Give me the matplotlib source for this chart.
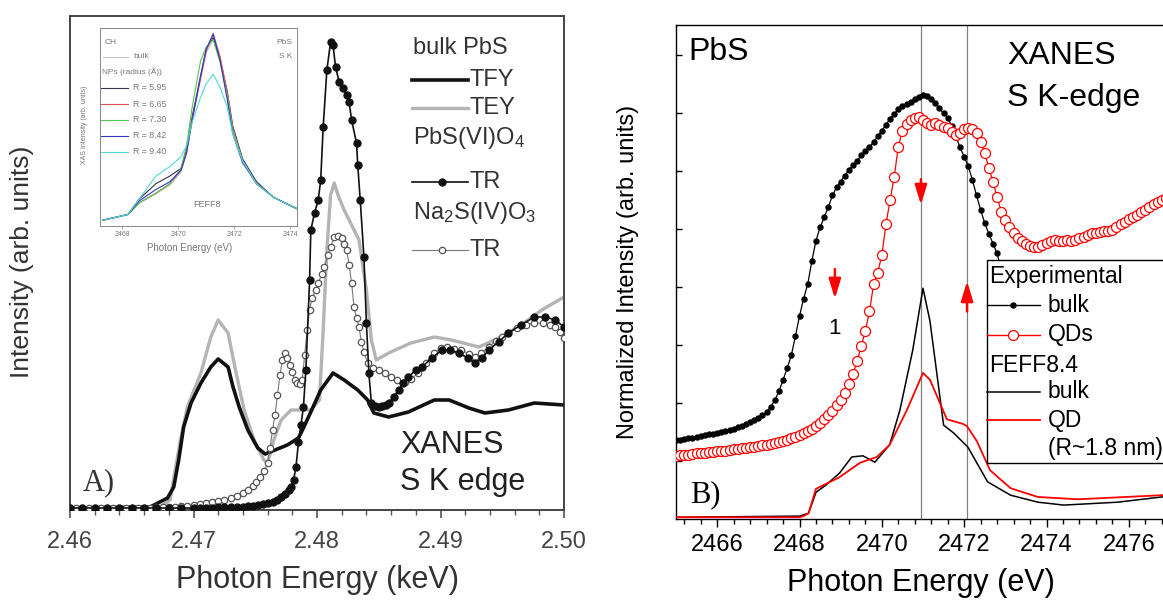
import matplotlib
matplotlib.use('Agg')
import matplotlib.pyplot as plt
from matplotlib.lines import Line2D
from matplotlib.patches import Rectangle
from matplotlib.ticker import MultipleLocator, FormatStrFormatter

plt.rcParams['font.family'] = ['Liberation Sans', 'DejaVu Sans']
plt.rcParams['mathtext.fontset'] = 'custom'
plt.rcParams['mathtext.rm'] = 'Liberation Sans'
plt.rcParams['mathtext.it'] = 'Liberation Sans:italic'

# ---------------- Panel A data (keV, arb.) ----------------
tfy_pts = [(2.4600, 0.02), (2.4665, 0.03), (2.4679, 0.12), (2.4684, 0.23), (2.4688, 0.50),
           (2.4692, 0.83), (2.4698, 1.07), (2.4706, 1.27), (2.4714, 1.43), (2.4720, 1.51),
           (2.4728, 1.43), (2.4732, 1.23), (2.4737, 1.03), (2.4744, 0.80), (2.4752, 0.62),
           (2.4758, 0.56), (2.4766, 0.60), (2.4776, 0.65), (2.4785, 0.72), (2.4789, 0.82),
           (2.4795, 0.98), (2.4803, 1.20), (2.4813, 1.37), (2.4822, 1.30), (2.4833, 1.20),
           (2.4841, 1.10), (2.4846, 0.97), (2.4858, 0.93), (2.4874, 0.98), (2.4895, 1.10),
           (2.4907, 1.10), (2.4923, 1.02), (2.4936, 0.97), (2.4955, 1.00), (2.4976, 1.07),
           (2.5000, 1.05)]

tey_pts = [(2.4600, 0.02), (2.4673, 0.03), (2.4681, 0.10), (2.4689, 0.67), (2.4695, 1.03),
           (2.4706, 1.37), (2.4714, 1.73), (2.4720, 1.90), (2.4728, 1.77), (2.4734, 1.40),
           (2.4741, 1.00), (2.4749, 0.70), (2.4757, 0.50), (2.4760, 0.47), (2.4765, 0.70),
           (2.4771, 0.90), (2.4779, 1.00), (2.4795, 1.00), (2.4802, 1.10), (2.4805, 1.80),
           (2.4808, 2.60), (2.4811, 3.15), (2.4814, 3.27), (2.4817, 3.15), (2.4822, 3.00),
           (2.4828, 2.85), (2.4834, 2.70), (2.4840, 2.20), (2.4844, 1.70), (2.4848, 1.50),
           (2.4858, 1.57), (2.4876, 1.67), (2.4895, 1.73), (2.4909, 1.70), (2.4931, 1.63),
           (2.4944, 1.70), (2.4963, 1.83), (2.4982, 2.00), (2.5000, 2.13)]

pbso4_pts = [(2.4600, 0.02), (2.4610, 0.02), (2.4620, 0.02), (2.4630, 0.02), (2.4640, 0.02),
             (2.4650, 0.02), (2.4660, 0.02), (2.4670, 0.02), (2.4680, 0.02), (2.4690, 0.02),
             (2.4700, 0.02), (2.4705, 0.02), (2.4710, 0.02), (2.4715, 0.02), (2.4720, 0.03),
             (2.4725, 0.03), (2.4730, 0.03), (2.4735, 0.03), (2.4740, 0.03), (2.4744, 0.04),
             (2.4748, 0.04), (2.4752, 0.05), (2.4756, 0.06), (2.4760, 0.07), (2.4764, 0.08),
             (2.4768, 0.10), (2.4771, 0.13), (2.4774, 0.16), (2.4777, 0.20), (2.4779, 0.23),
             (2.4781, 0.30), (2.4783, 0.43), (2.4785, 0.68), (2.4787, 0.85), (2.4789, 1.03),
             (2.4791, 1.40), (2.4794, 2.30), (2.4795, 2.80), (2.4798, 2.97), (2.4801, 3.10),
             (2.4803, 3.30), (2.4805, 3.83), (2.4808, 4.40), (2.4811, 4.68), (2.4813, 4.65),
             (2.4815, 4.43), (2.4818, 4.28), (2.4821, 4.22), (2.4824, 4.15), (2.4826, 4.08),
             (2.4828, 3.90), (2.4832, 3.67), (2.4833, 3.45), (2.4835, 3.10), (2.4838, 2.53),
             (2.4840, 1.87), (2.4842, 1.37), (2.4844, 1.07), (2.4847, 1.04), (2.4850, 1.03),
             (2.4853, 1.04), (2.4856, 1.05), (2.4858, 1.07), (2.4862, 1.13), (2.4866, 1.20),
             (2.4870, 1.27), (2.4874, 1.33), (2.4880, 1.40), (2.4885, 1.43), (2.4893, 1.52),
             (2.4901, 1.60), (2.4908, 1.60), (2.4915, 1.57), (2.4922, 1.52), (2.4928, 1.47),
             (2.4934, 1.52), (2.4939, 1.60), (2.4947, 1.68), (2.4955, 1.77), (2.4965, 1.85),
             (2.4976, 1.93), (2.4985, 1.93), (2.4993, 1.90), (2.5000, 1.83)]

na2so3_pts = [(2.4600, 0.02), (2.4605, 0.02), (2.4610, 0.02), (2.4615, 0.02), (2.4620, 0.02),
              (2.4625, 0.02), (2.4630, 0.02), (2.4635, 0.02), (2.4640, 0.02), (2.4645, 0.02),
              (2.4650, 0.02), (2.4655, 0.02), (2.4660, 0.02), (2.4665, 0.02), (2.4670, 0.03),
              (2.4675, 0.03), (2.4680, 0.03), (2.4685, 0.03), (2.4690, 0.04), (2.4695, 0.04),
              (2.4700, 0.05), (2.4705, 0.06), (2.4710, 0.07), (2.4715, 0.08), (2.4720, 0.09),
              (2.4725, 0.10), (2.4730, 0.12), (2.4735, 0.14), (2.4740, 0.17), (2.4744, 0.20),
              (2.4748, 0.24), (2.4751, 0.28), (2.4754, 0.33), (2.4757, 0.39), (2.4760, 0.47),
              (2.4762, 0.62), (2.4764, 0.80), (2.4766, 0.95), (2.4768, 1.15), (2.4770, 1.35),
              (2.4772, 1.50), (2.4774, 1.57), (2.4776, 1.52), (2.4778, 1.45), (2.4780, 1.38),
              (2.4782, 1.30), (2.4784, 1.27), (2.4786, 1.26), (2.4788, 1.30), (2.4790, 1.55),
              (2.4792, 1.80), (2.4794, 2.00), (2.4796, 2.12), (2.4799, 2.20), (2.4801, 2.27),
              (2.4804, 2.36), (2.4806, 2.43), (2.4809, 2.55), (2.4811, 2.63), (2.4814, 2.73),
              (2.4817, 2.74), (2.4820, 2.72), (2.4822, 2.66), (2.4824, 2.60), (2.4826, 2.45),
              (2.4828, 2.27), (2.4830, 2.03), (2.4832, 1.92), (2.4834, 1.83), (2.4836, 1.68),
              (2.4838, 1.58), (2.4841, 1.47), (2.4845, 1.42), (2.4850, 1.40), (2.4855, 1.37),
              (2.4860, 1.33), (2.4865, 1.30), (2.4871, 1.28), (2.4876, 1.31), (2.4882, 1.37),
              (2.4888, 1.47), (2.4895, 1.57), (2.4900, 1.62), (2.4905, 1.63), (2.4911, 1.61),
              (2.4917, 1.60), (2.4923, 1.56), (2.4928, 1.53), (2.4933, 1.57), (2.4939, 1.63),
              (2.4945, 1.69), (2.4950, 1.73), (2.4955, 1.77), (2.4962, 1.82), (2.4969, 1.85),
              (2.4976, 1.87), (2.4983, 1.87), (2.4989, 1.85), (2.4993, 1.83), (2.4997, 1.78),
              (2.5000, 1.72)]

a_xticks = [2.46, 2.47, 2.48, 2.49, 2.50]

# ---------------- Inset data (eV, normalised) ----------------
inset_x = [2467.3, 2468.2, 2468.6, 2469.2, 2469.7, 2470.1, 2470.3, 2470.5, 2470.8, 2471.0,
           2471.25, 2471.5, 2471.75, 2471.95, 2472.3, 2472.8, 2473.4, 2474.1, 2474.25]
inset_bulk = [0.03, 0.06, 0.12, 0.17, 0.21, 0.28, 0.38, 0.55, 0.76, 0.90, 0.97, 0.87, 0.70,
              0.52, 0.35, 0.23, 0.15, 0.10, 0.09]
inset_r595 = [0.03, 0.06, 0.14, 0.22, 0.26, 0.30, 0.40, 0.57, 0.78, 0.92, 0.98, 0.86, 0.70,
              0.52, 0.35, 0.23, 0.15, 0.10, 0.09]
inset_r665 = [0.03, 0.06, 0.12, 0.17, 0.22, 0.29, 0.39, 0.56, 0.77, 0.91, 1.00, 0.88, 0.70,
              0.51, 0.34, 0.22, 0.15, 0.10, 0.09]
inset_r730 = [0.03, 0.06, 0.12, 0.17, 0.22, 0.30, 0.42, 0.62, 0.86, 0.93, 0.97, 0.85, 0.68,
              0.50, 0.34, 0.22, 0.15, 0.10, 0.09]
inset_r842 = [0.03, 0.06, 0.13, 0.19, 0.23, 0.29, 0.38, 0.55, 0.78, 0.92, 1.00, 0.86, 0.66,
              0.48, 0.33, 0.22, 0.15, 0.10, 0.09]
inset_r940 = [0.03, 0.06, 0.14, 0.26, 0.31, 0.36, 0.42, 0.54, 0.67, 0.74, 0.79, 0.72, 0.62,
              0.48, 0.34, 0.22, 0.15, 0.10, 0.09]
inset_labels = ['R = 5.95', 'R = 6.65', 'R = 7.30', 'R = 8.42', 'R = 9.40']
inset_colors = ['#3a3050', '#e05050', '#50c850', '#3838c8', '#50d8d8']
inset_xticks = [2468, 2470, 2472, 2474]

# ---------------- Panel B data (eV, arb.) ----------------
bulk_exp = [(2465.0, 1.36), (2465.1, 1.37), (2465.2, 1.38), (2465.3, 1.39), (2465.4, 1.40),
            (2465.5, 1.42), (2465.6, 1.43), (2465.7, 1.45), (2465.8, 1.46), (2465.9, 1.47),
            (2466.0, 1.48), (2466.1, 1.50), (2466.2, 1.52), (2466.3, 1.54), (2466.4, 1.56),
            (2466.5, 1.59), (2466.6, 1.61), (2466.7, 1.64), (2466.8, 1.67), (2466.9, 1.70),
            (2467.0, 1.74), (2467.1, 1.79), (2467.2, 1.84), (2467.3, 1.94), (2467.4, 2.05),
            (2467.5, 2.20), (2467.6, 2.40), (2467.7, 2.60), (2467.8, 2.82), (2467.9, 3.15),
            (2468.0, 3.50), (2468.1, 3.80), (2468.2, 4.05), (2468.3, 4.45), (2468.4, 4.80),
            (2468.5, 5.03), (2468.6, 5.20), (2468.7, 5.38), (2468.8, 5.58), (2468.9, 5.72),
            (2469.0, 5.82), (2469.1, 5.92), (2469.2, 6.02), (2469.3, 6.10), (2469.4, 6.18),
            (2469.5, 6.27), (2469.6, 6.35), (2469.7, 6.42), (2469.8, 6.50), (2469.9, 6.60),
            (2470.0, 6.70), (2470.1, 6.80), (2470.2, 6.90), (2470.3, 6.98), (2470.4, 7.07),
            (2470.5, 7.12), (2470.6, 7.16), (2470.7, 7.20), (2470.8, 7.24), (2470.9, 7.28),
            (2471.0, 7.31), (2471.1, 7.29), (2471.2, 7.24), (2471.3, 7.18), (2471.4, 7.08),
            (2471.5, 7.00), (2471.6, 6.92), (2471.7, 6.78), (2471.8, 6.60), (2471.9, 6.41),
            (2472.0, 6.25), (2472.1, 6.08), (2472.2, 5.85), (2472.3, 5.58), (2472.4, 5.33),
            (2472.5, 5.10), (2472.6, 4.92), (2472.7, 4.75), (2472.8, 4.58), (2472.9, 4.30),
            (2473.0, 3.95), (2473.1, 3.60), (2473.2, 3.30)]

qds_exp = [(2465.0, 1.09), (2465.1, 1.10), (2465.2, 1.10), (2465.3, 1.11), (2465.4, 1.12),
           (2465.5, 1.13), (2465.6, 1.14), (2465.7, 1.14), (2465.8, 1.15), (2465.9, 1.16),
           (2466.0, 1.17), (2466.1, 1.17), (2466.2, 1.18), (2466.3, 1.19), (2466.4, 1.20),
           (2466.5, 1.21), (2466.6, 1.22), (2466.7, 1.23), (2466.8, 1.24), (2466.9, 1.25),
           (2467.0, 1.26), (2467.1, 1.27), (2467.2, 1.28), (2467.3, 1.29), (2467.4, 1.31),
           (2467.5, 1.33), (2467.6, 1.35), (2467.7, 1.37), (2467.8, 1.39), (2467.9, 1.42),
           (2468.0, 1.45), (2468.1, 1.48), (2468.2, 1.52), (2468.3, 1.56), (2468.4, 1.60),
           (2468.5, 1.66), (2468.6, 1.72), (2468.7, 1.79), (2468.8, 1.87), (2468.9, 1.96),
           (2469.0, 2.06), (2469.1, 2.17), (2469.2, 2.33), (2469.3, 2.50), (2469.4, 2.72),
           (2469.5, 2.98), (2469.6, 3.25), (2469.7, 3.58), (2469.8, 4.05), (2469.9, 4.25),
           (2470.0, 4.55), (2470.1, 5.08), (2470.2, 5.50), (2470.3, 5.90), (2470.4, 6.42),
           (2470.5, 6.70), (2470.6, 6.82), (2470.7, 6.88), (2470.8, 6.92), (2470.9, 6.93),
           (2471.0, 6.88), (2471.1, 6.83), (2471.2, 6.80), (2471.3, 6.83), (2471.4, 6.80),
           (2471.5, 6.76), (2471.6, 6.74), (2471.7, 6.68), (2471.8, 6.62), (2471.9, 6.66),
           (2472.0, 6.72), (2472.1, 6.74), (2472.2, 6.72), (2472.3, 6.65), (2472.4, 6.50),
           (2472.5, 6.31), (2472.6, 6.05), (2472.7, 5.82), (2472.8, 5.55), (2472.9, 5.30),
           (2473.0, 5.15), (2473.1, 5.03), (2473.2, 4.94), (2473.3, 4.85), (2473.4, 4.79),
           (2473.5, 4.74), (2473.6, 4.71), (2473.7, 4.69), (2473.8, 4.69), (2473.9, 4.72),
           (2474.0, 4.76), (2474.1, 4.80), (2474.2, 4.81), (2474.3, 4.79), (2474.4, 4.80),
           (2474.5, 4.82), (2474.6, 4.80), (2474.7, 4.81), (2474.8, 4.84), (2474.9, 4.87),
           (2475.0, 4.90), (2475.1, 4.93), (2475.2, 4.94), (2475.3, 4.95), (2475.4, 4.97),
           (2475.5, 4.97), (2475.6, 4.98), (2475.7, 5.03), (2475.8, 5.08), (2475.9, 5.12),
           (2476.0, 5.17), (2476.1, 5.21), (2476.2, 5.25), (2476.3, 5.29), (2476.4, 5.33),
           (2476.5, 5.38), (2476.6, 5.43), (2476.7, 5.47), (2476.8, 5.50), (2476.9, 5.53)]

feff_bulk = [(2465.0, 0.03), (2468.0, 0.05), (2468.22, 0.10), (2468.4, 0.46), (2468.65, 0.59),
             (2468.97, 0.79), (2469.27, 1.07), (2469.54, 1.09), (2469.83, 0.98), (2470.19, 1.28),
             (2470.44, 1.88), (2470.75, 2.91), (2471.0, 3.98), (2471.17, 3.41), (2471.5, 1.62),
             (2471.75, 1.48), (2472.09, 1.24), (2472.57, 0.64), (2473.13, 0.41), (2473.79, 0.29),
             (2474.42, 0.24), (2475.73, 0.29), (2476.8, 0.38), (2477.0, 0.40)]

feff_qd = [(2465.0, 0.03), (2468.0, 0.03), (2468.1, 0.05), (2468.22, 0.10), (2468.4, 0.52),
           (2468.97, 0.72), (2469.47, 0.97), (2469.88, 1.07), (2470.19, 1.28), (2470.61, 1.88),
           (2471.0, 2.52), (2471.17, 2.40), (2471.58, 1.72), (2471.97, 1.64), (2472.07, 1.60),
           (2472.31, 1.34), (2472.63, 0.84), (2473.13, 0.53), (2473.79, 0.38), (2474.76, 0.34),
           (2476.8, 0.41), (2477.0, 0.42)]

vlines_b = [2470.95, 2472.07]
# arrows: (x, y_start, y_end)
arrows_b = [(2470.95, 5.86, 5.42), (2468.86, 4.31, 3.80), (2472.07, 3.58, 4.10)]
b_xticks = [2466, 2468, 2470, 2472, 2474, 2476]

# ---------------- Figure ----------------
W, H = 1163, 601
fig = plt.figure(figsize=(W / 100, H / 100), dpi=100)


def fx(px):
    return px / W


def fy(py):
    return 1 - py / H


def xs(p):
    return [a for a, b in p]


def ys(p):
    return [b for a, b in p]


# ===== Panel A =====
axA = fig.add_axes([fx(70), fy(510), (564 - 70) / W, (510 - 16) / H])
axA.set_xlim(2.46, 2.50)
axA.set_ylim(0, 4.94)
axA.plot(xs(tey_pts), ys(tey_pts), color='#b4b4b4', lw=2.4, zorder=2)
axA.plot(xs(tfy_pts), ys(tfy_pts), color='#111111', lw=2.6, zorder=3)
axA.plot(xs(na2so3_pts), ys(na2so3_pts), color='#777777', lw=0.8, marker='o', ms=4.6,
         mfc='white', mec='#555555', mew=0.9, zorder=4)
axA.plot(xs(pbso4_pts), ys(pbso4_pts), color='#111111', lw=1.2, marker='o', ms=5,
         mfc='#111111', mec='#111111', zorder=5)
for s in axA.spines.values():
    s.set_color('#444444')
    s.set_linewidth(1.4)
axA.set_yticks([])
axA.set_xticks(a_xticks)
axA.xaxis.set_major_formatter(FormatStrFormatter('%.2f'))
axA.xaxis.set_minor_locator(MultipleLocator(0.002))
axA.tick_params(axis='x', which='major', direction='out', length=6, width=1.2,
                colors='#555555', labelsize=17, labelcolor='#444444', pad=9)
axA.tick_params(axis='x', which='minor', direction='out', length=3.5, width=1,
                colors='#555555')

fig.text(fx(317), fy(580), 'Photon Energy (keV)', ha='center', va='center', size=22,
         color='#333333')
fig.text(fx(22), fy(262), 'Intensity (arb. units)', ha='center', va='center', size=19,
         rotation=90, color='#333333')
fig.text(fx(83), fy(483), 'A)', ha='left', va='center', size=22, color='#333333',
         family='Liberation Serif')
fig.text(fx(400), fy(445), 'XANES', ha='left', va='center', size=22, color='#222222')
fig.text(fx(400), fy(482), 'S K edge', ha='left', va='center', size=22, color='#222222')

# Panel A legend
tc = '#333333'
fig.text(fx(413), fy(48), 'bulk PbS', ha='left', va='center', size=17, color=tc)
fig.add_artist(Line2D([fx(412), fx(468)], [fy(80)] * 2, color='#111111', lw=2.6))
fig.text(fx(470), fy(80), 'TFY', ha='left', va='center', size=17, color=tc)
fig.add_artist(Line2D([fx(412), fx(468)], [fy(108)] * 2, color='#b4b4b4', lw=2.4))
fig.text(fx(470), fy(108), 'TEY', ha='left', va='center', size=17, color=tc)
fig.text(fx(413), fy(138), 'PbS(VI)O$_4$', ha='left', va='center', size=17, color=tc)
fig.add_artist(Line2D([fx(412), fx(442), fx(468)], [fy(182)] * 3, color='#111111', lw=1.2,
                      marker='o', ms=5, markevery=[1], mfc='#111111', mec='#111111'))
fig.text(fx(470), fy(182), 'TR', ha='left', va='center', size=17, color=tc)
fig.text(fx(413), fy(213), 'Na$_2$S(IV)O$_3$', ha='left', va='center', size=17, color=tc)
fig.add_artist(Line2D([fx(412), fx(442), fx(468)], [fy(250)] * 3, color='#777777', lw=0.8,
                      marker='o', ms=4.6, markevery=[1], mfc='white', mec='#555555',
                      mew=0.9))
fig.text(fx(470), fy(250), 'TR', ha='left', va='center', size=17, color=tc)

# ===== Inset =====
axI = fig.add_axes([fx(100), fy(226), 197 / W, 198 / H])
axI.set_xlim(2467.2, 2474.25)
axI.set_ylim(0, 1.03)
axI.plot(inset_x, inset_bulk, color='#c8c8c8', lw=0.8)
for yv, c in zip([inset_r595, inset_r665, inset_r730, inset_r842, inset_r940], inset_colors):
    axI.plot(inset_x, yv, color=c, lw=0.8)
for s in axI.spines.values():
    s.set_color('#888888')
    s.set_linewidth(0.7)
axI.set_yticks([])
axI.set_xticks(inset_xticks)
axI.tick_params(axis='x', direction='out', length=2, width=0.5, colors='#888888',
                labelsize=5, labelcolor='#777777', pad=1.5)
ic = '#777777'
fig.text(fx(190), fy(248), 'Photon Energy (eV)', ha='center', va='center', size=7, color=ic)
fig.text(fx(84), fy(125), 'XAS Intensity (arb. units)', ha='center', va='center', size=5,
         rotation=90, color=ic)
fig.text(fx(105), fy(42), 'CH', ha='left', va='center', size=6, color=ic)
fig.text(fx(292), fy(42), 'PbS', ha='right', va='center', size=6, color=ic)
fig.text(fx(292), fy(57), 'S K', ha='right', va='center', size=6, color=ic)
fig.text(fx(207), fy(205), 'FEFF8', ha='center', va='center', size=6.5, color=ic)
fig.add_artist(Line2D([fx(103), fx(128)], [fy(57)] * 2, color='#c8c8c8', lw=0.8))
fig.text(fx(133), fy(57), 'bulk', ha='left', va='center', size=6, color=ic)
fig.text(fx(102), fy(72), 'NPs (radius (Å))', ha='left', va='center', size=6, color=ic)
for i, (lab, c) in enumerate(zip(inset_labels, inset_colors)):
    yy = 88 + 16 * i
    fig.add_artist(Line2D([fx(101), fx(128)], [fy(yy)] * 2, color=c, lw=0.8))
    fig.text(fx(133), fy(yy), lab, ha='left', va='center', size=6.3, color=ic)

# ===== Panel B =====
axB = fig.add_axes([fx(676), fy(519), (1170 - 676) / W, (519 - 25) / H])
axB.set_xlim(2465.0, 2477.0)
axB.set_ylim(0, 8.52)
for v in vlines_b:
    axB.axvline(v, color='#808080', lw=0.9, zorder=1)
axB.plot(xs(feff_bulk), ys(feff_bulk), color='black', lw=1.1, zorder=3)
axB.plot(xs(feff_qd), ys(feff_qd), color='red', lw=1.3, zorder=3)
axB.plot(xs(bulk_exp), ys(bulk_exp), color='black', lw=0.9, marker='o', ms=3.6,
         mfc='black', mec='black', zorder=4)
axB.plot(xs(qds_exp), ys(qds_exp), color='red', lw=0.9, marker='o', ms=7.2,
         mfc='white', mec='red', mew=0.9, zorder=4)
for x0, y0, y1 in arrows_b:
    axB.annotate('', xy=(x0, y1), xytext=(x0, y0), zorder=6,
                 arrowprops=dict(arrowstyle='-|>,head_width=0.26,head_length=0.85',
                                 color='red', lw=1.8, mutation_scale=14,
                                 shrinkA=0, shrinkB=0))
axB.text(2468.86, 3.29, '1', ha='center', va='center', size=16)

for s in axB.spines.values():
    s.set_color('black')
    s.set_linewidth(1.0)
axB.set_xticks(b_xticks)
axB.xaxis.set_minor_locator(MultipleLocator(0.4))
axB.tick_params(axis='x', which='major', direction='out', length=6, width=1,
                labelsize=17, pad=5)
axB.tick_params(axis='x', which='minor', direction='out', length=3.5, width=1)
axB.set_yticks([1, 2, 3, 4, 5, 6, 7, 8])
axB.tick_params(axis='y', which='major', direction='in', length=4, width=1, labelleft=False)

fig.text(fx(921), fy(583), 'Photon Energy (eV)', ha='center', va='center', size=22)
fig.text(fx(628), fy(272), 'Normalized Intensity (arb. units)', ha='center', va='center',
         size=17, rotation=90)
fig.text(fx(688), fy(52), 'PbS', ha='left', va='center', size=23)
fig.text(fx(1007), fy(56), 'XANES', ha='left', va='center', size=23)
fig.text(fx(1007), fy(98), 'S K-edge', ha='left', va='center', size=23)
fig.text(fx(690), fy(495), 'B)', ha='left', va='center', size=22, family='Liberation Serif')

# Panel B legend (drawn in figure coordinates, above the data)
T = fig.transFigure
axB.add_patch(Rectangle((fx(987), fy(463)), fx(1185) - fx(987), fy(260) - fy(463),
                        transform=T, facecolor='white', edgecolor='black', lw=1.0,
                        zorder=10, clip_on=False))
lk = dict(transform=T, zorder=12, clip_on=False)
axB.text(fx(989), fy(277), 'Experimental', ha='left', va='center', size=16.5, **lk)
axB.add_line(Line2D([fx(987), fx(1013), fx(1040)], [fy(305)] * 3, color='black', lw=1,
                    marker='o', ms=3.6, markevery=[1], **lk))
axB.text(fx(1048), fy(305), 'bulk', ha='left', va='center', size=16.5, **lk)
axB.add_line(Line2D([fx(987), fx(1013), fx(1040)], [fy(335)] * 3, color='red', lw=1,
                    marker='o', ms=7.2, markevery=[1], mfc='white', mec='red', mew=0.9, **lk))
axB.text(fx(1048), fy(335), 'QDs', ha='left', va='center', size=16.5, **lk)
axB.text(fx(989), fy(365), 'FEFF8.4', ha='left', va='center', size=16.5, **lk)
axB.add_line(Line2D([fx(987), fx(1040)], [fy(392)] * 2, color='black', lw=1.1, **lk))
axB.text(fx(1048), fy(392), 'bulk', ha='left', va='center', size=16.5, **lk)
axB.add_line(Line2D([fx(987), fx(1040)], [fy(420)] * 2, color='red', lw=1.3, **lk))
axB.text(fx(1048), fy(420), 'QD', ha='left', va='center', size=16.5, **lk)
axB.text(fx(1048), fy(448), '(R~1.8 nm)', ha='left', va='center', size=16.5, **lk)

fig.savefig('out.png', dpi=100)
